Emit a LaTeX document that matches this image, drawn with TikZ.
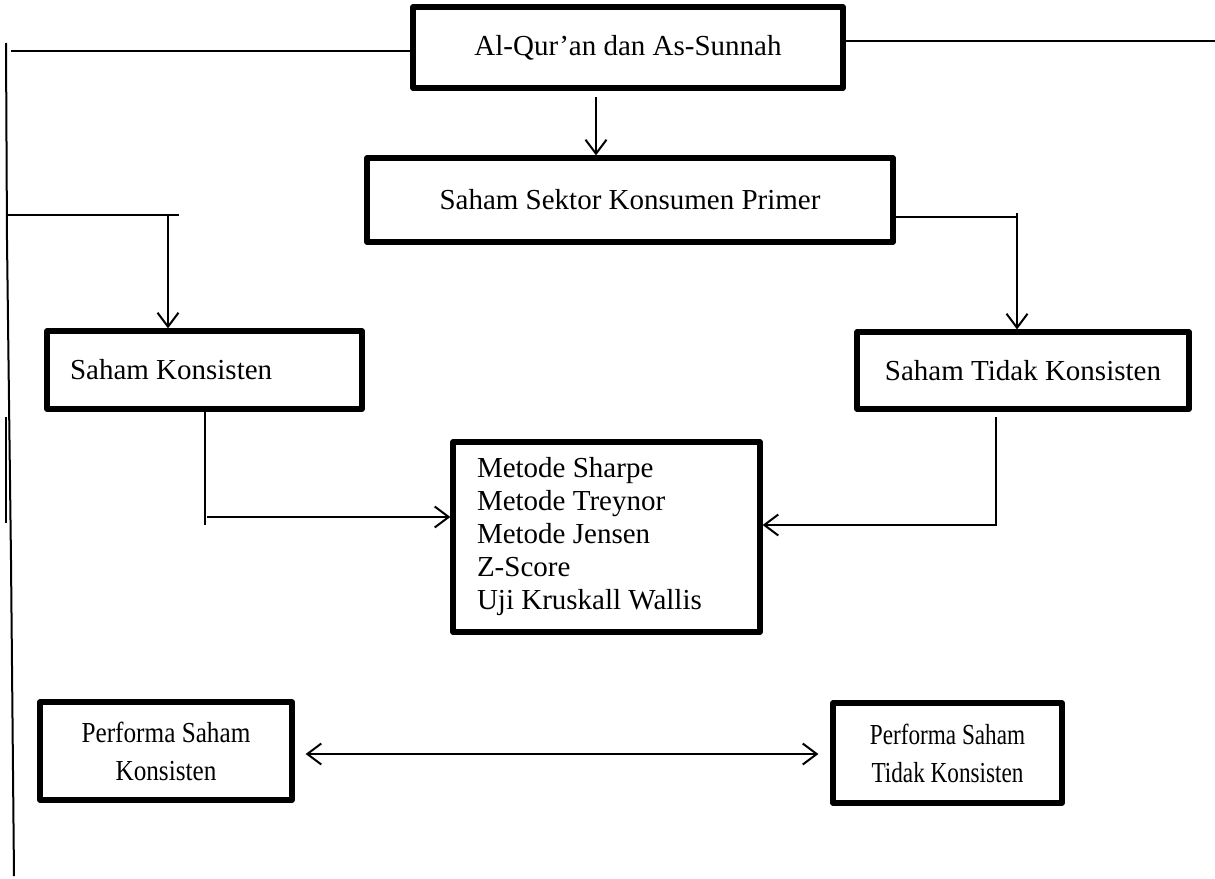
\documentclass[tikz,border=0pt]{standalone}
\usepackage{fontspec}
\setmainfont{Liberation Serif}
\usetikzlibrary{arrows.meta}
\newcommand\condtext[2]{\scalebox{#1}[1]{#2}}
\tikzset{
  box/.style={draw, line width=2.6pt, line join=round, inner sep=0pt, align=center},
  conn/.style={line width=1pt},
  myb/.tip={Straight Barb[length=7pt,width=10.5pt]},
  arr/.style={conn, -myb},
  dbl/.style={conn, myb-myb},
}
\begin{document}
\begin{tikzpicture}[x=0.5pt,y=-0.5pt,font=\fontsize{14.5}{16.5}\selectfont]
\useasboundingbox (0,0) rectangle (1215,878);

% boxes
\node[box, minimum width=215pt, minimum height=40.5pt] (A) at (628,47.5) {Al-Qur’an dan As-Sunnah};
\node[box, minimum width=263pt, minimum height=42pt] (B) at (630,200) {Saham Sektor Konsumen Primer};
\node[box, align=flush left, text width=134.5pt, inner xsep=11.5pt, minimum height=39pt] (C) at (204.5,370) {Saham Konsisten};
\node[box, minimum width=166pt, minimum height=38.5pt] (D) at (1023,370.5) {Saham Tidak Konsisten};
\node[box, align=flush left, text width=129.5pt, inner xsep=12pt, minimum height=95pt] (E) at (606.5,537)
  {Metode Sharpe\\Metode Treynor\\Metode Jensen\\Z-Score\\Uji Kruskall Wallis};
\node[box, minimum width=126pt, minimum height=49pt, font=\fontsize{14.5}{19}\selectfont] (F) at (166,751)
  {\condtext{0.87}{Performa Saham}\\\condtext{0.87}{Konsisten}};
\node[box, minimum width=114.5pt, minimum height=50pt, font=\fontsize{14.5}{19}\selectfont] (G) at (947.5,753)
  {\condtext{0.8}{Performa Saham}\\\condtext{0.8}{Tidak Konsisten}};

% left frame lines
\coordinate (lv1) at (6,43);
\coordinate (lv2) at (7,240);
\coordinate (lv3) at (11,560);
\coordinate (lv4) at (14,876);
\draw[conn] (lv1) -- (lv2) -- (lv3) -- (lv4);
\coordinate (lv5) at (6,417);
\coordinate (lv6) at (6,523);
\draw[conn] (lv5) -- (lv6);

% top lines
\coordinate (tl) at (11,51);
\draw[conn] (tl) -- (tl -| A.west);
\coordinate (tr) at (1215,41);
\draw[conn] (A.east |- tr) -- (tr);

% A -> B
\coordinate (ab) at (596,97);
\draw[arr] (ab) -- (ab |- B.north);

% left branch -> C
\coordinate (lb1) at (7,215);
\coordinate (lb2) at (179,215);
\draw[conn] (lb1) -- (lb2);
\coordinate (lb3) at (168,215);
\draw[arr] (lb3) -- (lb3 |- C.north);

% right branch B -> D
\coordinate (rb1) at (1017,217);
\draw[conn] (B.east |- rb1) -- (rb1);
\coordinate (rb2) at (1017,213);
\draw[arr] (rb2) -- (rb2 |- D.north);

% C -> E
\coordinate (ce1) at (205,525);
\draw[conn] (C.south -| ce1) -- (ce1);
\coordinate (ce2) at (207,517);
\draw[arr] (ce2) -- (ce2 -| E.west);

% D -> E
\coordinate (de1) at (996,417);
\coordinate (de2) at (996,525);
\draw[arr] (de1) -- (de2) -- (de2 -| E.east);

% F <-> G
\coordinate (fg) at (600,754);
\draw[dbl, shorten <=5.5pt, shorten >=6pt] (F.east |- fg) -- (G.west |- fg);
\end{tikzpicture}
\end{document}
